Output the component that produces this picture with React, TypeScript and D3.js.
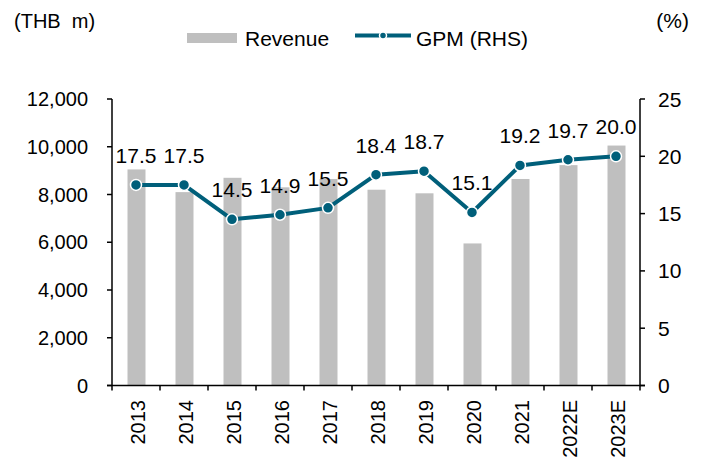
import React from "react";
import * as d3 from "d3";

const categories = ["2013", "2014", "2015", "2016", "2017", "2018", "2019", "2020", "2021", "2022E", "2023E"];
const revenue = [9050, 8100, 8700, 8300, 8650, 8200, 8050, 5950, 8650, 9230, 10050];
const gpm = [17.5, 17.5, 14.5, 14.9, 15.5, 18.4, 18.7, 15.1, 19.2, 19.7, 20.0];
const leftTicks = [0, 2000, 4000, 6000, 8000, 10000, 12000];
const rightTicks = [0, 5, 10, 15, 20, 25];

const W = 702;
const H = 459;
const X0 = 112;
const X1 = 640;
const Y0 = 385.5;
const Y1 = 99;
const BAR = "#BFBFBF";
const LINE = "#005F7A";
const FONT = "'Liberation Sans', Arial, Helvetica, sans-serif";

export default function App() {
  const x = d3.scaleBand<string>().domain(categories).range([X0, X1]).padding(0);
  const yL = d3.scaleLinear().domain([0, 12000]).range([Y0, Y1]);
  const yR = d3.scaleLinear().domain([0, 25]).range([Y0, Y1]);
  const bw = 18;
  const cx = (c: string) => (x(c) as number) + x.bandwidth() / 2;
  const line = d3
    .line<number>()
    .x((_, i) => cx(categories[i]))
    .y((d) => yR(d));
  const fmt = d3.format(",");
  const boundaries = d3.range(categories.length + 1).map((i) => X0 + i * x.bandwidth());

  return (
    <svg
      width={W}
      height={H}
      style={{ position: "absolute", left: 0, top: 0, background: "#fff" }}
      fontFamily={FONT}
    >
      {/* unit labels */}
      <text x={14} y={28} fontSize={20} fill="#000" style={{ whiteSpace: "pre" }}>(THB  m)</text>
      <text x={689} y={28} fontSize={21} fill="#000" textAnchor="end">(%)</text>

      {/* legend */}
      <rect x={187} y={33} width={50} height={10} fill={BAR} />
      <text x={245} y={45.5} fontSize={21} fill="#000">Revenue</text>
      <line x1={355} x2={411} y1={35.5} y2={35.5} stroke={LINE} strokeWidth={4} />
      <circle cx={383} cy={35.5} r={3.5} fill={LINE} stroke="#fff" strokeWidth={1.5} />
      <text x={416} y={45.5} fontSize={21} fill="#000">GPM (RHS)</text>

      {/* bars */}
      {revenue.map((v, i) => (
        <rect
          key={categories[i]}
          x={cx(categories[i]) - bw / 2 + 0.5}
          y={yL(v)}
          width={bw}
          height={Y0 - yL(v)}
          fill={BAR}
        />
      ))}

      {/* axes */}
      <line x1={X0} x2={X0} y1={Y1} y2={Y0} stroke="#000" strokeWidth={1.5} />
      <line x1={X1} x2={X1} y1={Y1} y2={Y0} stroke="#000" strokeWidth={1.5} />
      <line x1={X0 - 5} x2={X1 + 5} y1={Y0} y2={Y0} stroke="#000" strokeWidth={1.5} />
      {leftTicks.map((t) => (
        <g key={"l" + t}>
          <line x1={X0 - 5} x2={X0} y1={yL(t)} y2={yL(t)} stroke="#000" strokeWidth={1.5} />
          <text x={88} y={yL(t)} dy="0.36em" fontSize={20} textAnchor="end" fill="#000">
            {fmt(t)}
          </text>
        </g>
      ))}
      {rightTicks.map((t) => (
        <g key={"r" + t}>
          <line x1={X1} x2={X1 + 5} y1={yR(t)} y2={yR(t)} stroke="#000" strokeWidth={1.5} />
          <text x={658} y={yR(t)} dy="0.36em" fontSize={21} textAnchor="start" fill="#000">
            {t}
          </text>
        </g>
      ))}
      {boundaries.map((b, i) => (
        <line key={"b" + i} x1={b} x2={b} y1={Y0} y2={Y0 + 5} stroke="#000" strokeWidth={1.5} />
      ))}
      {categories.map((c) => (
        <text
          key={"x" + c}
          transform={`translate(${cx(c) + 2},400) rotate(-90)`}
          dy="0.36em"
          fontSize={20}
          textAnchor="end"
          fill="#000"
        >
          {c}
        </text>
      ))}

      {/* GPM line */}
      <path d={line(gpm) || ""} fill="none" stroke={LINE} strokeWidth={4} strokeLinejoin="round" />
      {gpm.map((v, i) => (
        <circle key={"p" + i} cx={cx(categories[i])} cy={yR(v)} r={5.5} fill={LINE} stroke="#fff" strokeWidth={1.5} />
      ))}
      {gpm.map((v, i) => (
        <text
          key={"t" + i}
          x={cx(categories[i])}
          y={yR(v) - 22}
          fontSize={21}
          textAnchor="middle"
          fill="#000"
        >
          {v.toFixed(1)}
        </text>
      ))}
    </svg>
  );
}
